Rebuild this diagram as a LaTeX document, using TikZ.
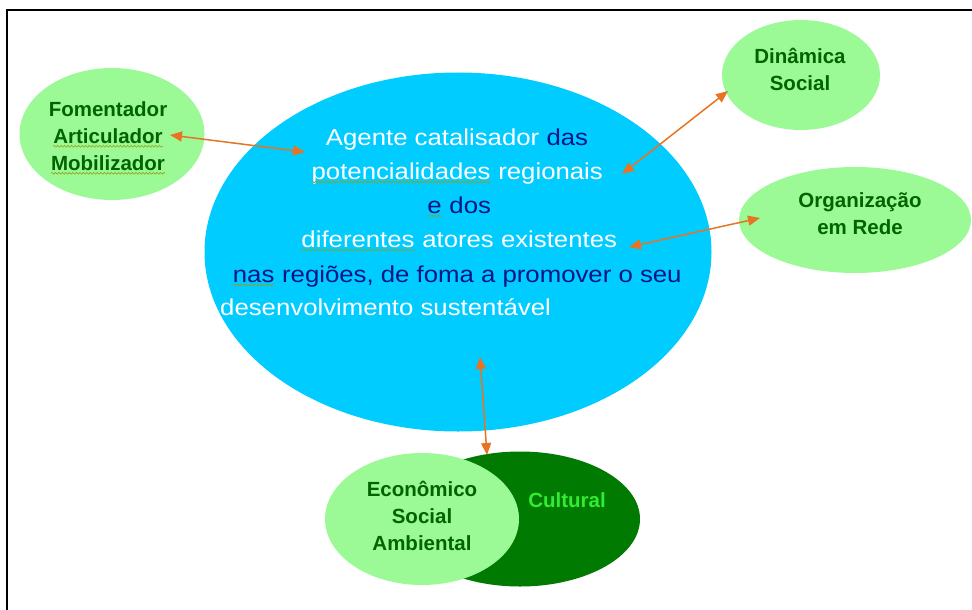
\documentclass[tikz,border=0pt]{standalone}
\usepackage{fontspec}
\setmainfont{Liberation Sans}
\newfontfamily\widesans[FakeStretch=1.12]{Liberation Sans}
\usetikzlibrary{shapes.geometric, arrows.meta, decorations.pathmorphing}

\definecolor{skyblob}{RGB}{0,204,255}
\definecolor{lightblob}{RGB}{155,250,150}
\definecolor{darkblob}{RGB}{0,122,0}
\definecolor{labelgreen}{RGB}{0,100,0}
\definecolor{culturalgreen}{RGB}{50,235,50}
\definecolor{deepnavy}{RGB}{0,20,140}
\definecolor{arroworange}{RGB}{232,115,35}
\definecolor{squiggle}{RGB}{150,160,20}

% wavy spell-check underline
\newcommand{\squig}[1]{\tikz[baseline=(sq.base)]{\node[inner sep=0pt] (sq) {#1};
    \draw[squiggle, line width=0.6pt, decorate, decoration={snake, amplitude=0.9pt, segment length=3.5pt}]
      ([yshift=-3pt]sq.base west) -- ([yshift=-3pt]sq.base east);}}

\tikzset{
  blob/.style={ellipse, inner sep=0pt, draw=none},
  greenlabel/.style={font=\fontsize{20.5}{27}\selectfont\bfseries, text=labelgreen, align=center, inner sep=0pt},
  mainline/.style={font=\widesans\fontsize{23}{34}\selectfont, text=white, inner sep=0pt, anchor=base},
  link/.style={{Triangle[length=12pt,width=10pt]}-{Triangle[length=12pt,width=10pt]}, draw=arroworange, line width=1.5pt},
}

\begin{document}
\begin{tikzpicture}[x=1pt, y=-1pt]
                \useasboundingbox (0,0) rectangle (972,610);
                \draw[line width=2pt] (7,611) -- (7,10) -- (973,10);

                % the ellipses
                \node[blob, fill=skyblob, minimum width=507pt, minimum height=359pt] (agente) at (458,252) {};
                \node[blob, fill=lightblob, minimum width=185pt, minimum height=132pt] (foment) at (112,134) {};
                \node[blob, fill=lightblob, minimum width=158pt, minimum height=110pt] (dinamica) at (801,75) {};
                \node[blob, fill=lightblob, minimum width=232pt, minimum height=106pt] (rede) at (855,220) {};
                \node[blob, fill=darkblob, minimum width=240pt, minimum height=135pt] (cultural) at (520,519) {};
                \node[blob, fill=lightblob, minimum width=194pt, minimum height=132pt] (economico) at (422,519) {};

                % green labels
                \node[greenlabel] (fomtext) at (108,138) {Fomentador\\\squig{Articulador}\\\squig{Mobilizador}};
                \node[greenlabel] (dintext) at (800,69) {Dinâmica\\Social};
                \node[greenlabel] (redetext) at (860,214) {Organização\\em Rede};
                \node[greenlabel] (ecotext) at (422,516) {Econômico\\Social\\Ambiental};
                \node[greenlabel, text=culturalgreen] (cultext) at (567,500) {Cultural};

                % central text
                \node[mainline] (line1) at (457,145) {Agente catalisador \textcolor{deepnavy}{das}};
                \node[mainline] (line2) at (457,179) {\squig{potencialidades} regionais};
                \node[mainline, text=deepnavy] (line3) at (459,213) {\squig{e} dos};
                \node[mainline] (line4) at (459,247) {\squig{diferentes} atores existentes};
                \node[mainline, text=deepnavy] (line5) at (457,282) {\squig{nas} regiões, de foma a promover o seu};
                \node[mainline, anchor=base west] (line6) at (220,315) {desenvolvimento sustentável};

                % arrow ends
                \coordinate (fomtip) at (170,135);
                \coordinate (agentetip) at (305,152);
                \coordinate (regtip) at (622,174);
                \coordinate (dintip) at (728,91);
                \coordinate (exitip) at (629,247);
                \coordinate (redetip) at (760,218);
                \coordinate (basetip) at (480,357);
                \coordinate (ecotip) at (487,455);

                \draw[link] (fomtip) -- (agentetip);
                \draw[link] (regtip) -- (dintip);
                \draw[link] (exitip) -- (redetip);
                \draw[link] (basetip) -- (ecotip);

            \end{tikzpicture}
\end{document}
